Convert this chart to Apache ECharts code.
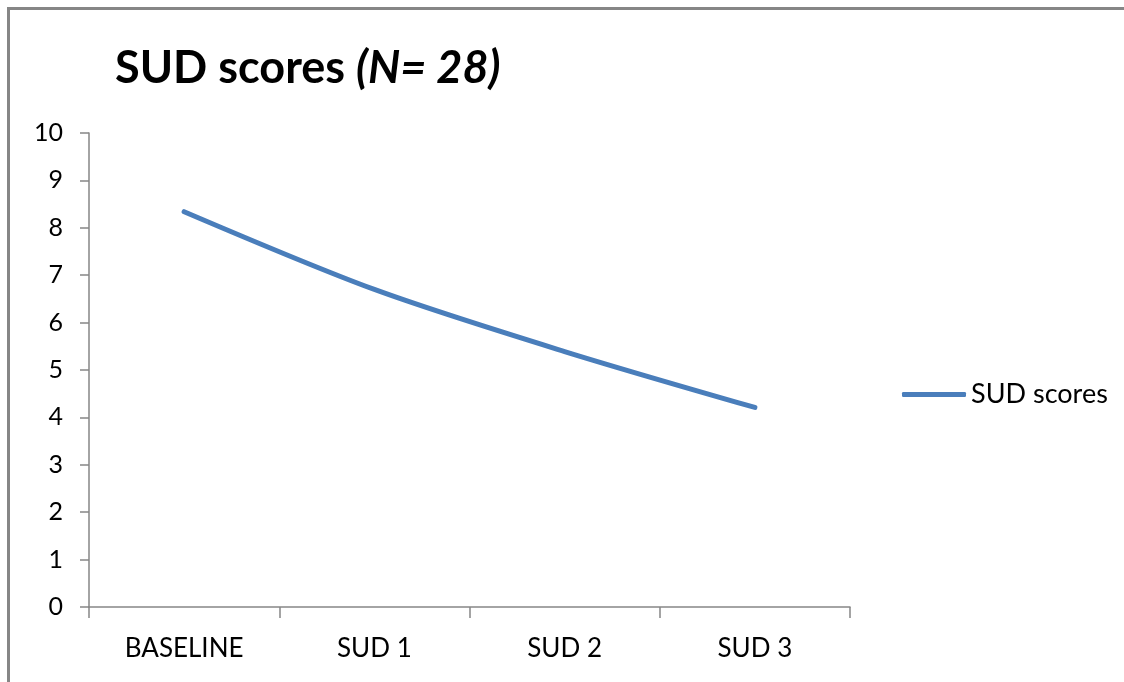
<!DOCTYPE html>
<html>
<head>
<meta charset="utf-8">
<script src="https://cdn.jsdelivr.net/npm/echarts@6/dist/echarts.min.js"></script>
<style>
html,body{margin:0;padding:0;background:#fff;}
#c{width:1124px;height:682px;}
</style>
</head>
<body>
<div id="c"></div>
<script>
var categories = ['BASELINE', 'SUD 1', 'SUD 2', 'SUD 3'];
var seriesName = 'SUD scores';
var sudValues = [8.34, 6.70, 5.39, 4.21];
var yMin = 0, yMax = 10, yInterval = 1;

var FONT = 'Lato';
var chart = echarts.init(document.getElementById('c'), null, {renderer: 'canvas'});
chart.setOption({
  backgroundColor: '#ffffff',
  animation: false,
  graphic: [
    {type: 'line', shape: {x1: 9, y1: 8.5, x2: 1124, y2: 8.5}, style: {stroke: '#868686', lineWidth: 3}},
    {type: 'line', shape: {x1: 8.5, y1: 7, x2: 8.5, y2: 682}, style: {stroke: '#868686', lineWidth: 3}}
  ],
  title: {
    text: '{b|SUD scores }{i|(N= 28)}',
    left: 110,
    top: 41,
    textStyle: {
      rich: {
        b: {fontFamily: FONT, fontSize: 45, fontWeight: 'bold', color: '#000'},
        i: {fontFamily: FONT, fontSize: 45, fontWeight: 'bold', fontStyle: 'italic', color: '#000'}
      }
    }
  },
  legend: {
    data: [{name: seriesName, icon: 'roundRect'}],
    left: 897,
    top: 376,
    itemWidth: 64,
    itemHeight: 5,
    itemGap: 10,
    textStyle: {fontFamily: FONT, fontSize: 27, color: '#000', padding: [0, 0, 0, 0]}
  },
  grid: {left: 89, right: 274, top: 133, bottom: 75, containLabel: false},
  xAxis: {
    type: 'category',
    data: categories,
    boundaryGap: true,
    axisLine: {lineStyle: {color: '#868686', width: 1.5}},
    axisTick: {show: true, length: 11, alignWithLabel: false, lineStyle: {color: '#868686', width: 1.5}},
    axisLabel: {fontFamily: FONT, fontSize: 26, color: '#000', margin: 29}
  },
  yAxis: {
    type: 'value',
    min: yMin,
    max: yMax,
    interval: yInterval,
    splitLine: {show: false},
    axisLine: {show: true, lineStyle: {color: '#868686', width: 1.5}},
    axisTick: {show: true, length: 9, lineStyle: {color: '#868686', width: 1.5}},
    axisLabel: {fontFamily: FONT, fontSize: 25, color: '#000', margin: 26}
  },
  series: [{
    name: seriesName,
    type: 'line',
    data: sudValues,
    smooth: 0.3,
    symbol: 'none',
    showSymbol: false,
    lineStyle: {color: '#4a7ebb', width: 5, cap: 'round'},
    itemStyle: {color: '#4a7ebb'}
  }]
});
</script>
</body>
</html>
